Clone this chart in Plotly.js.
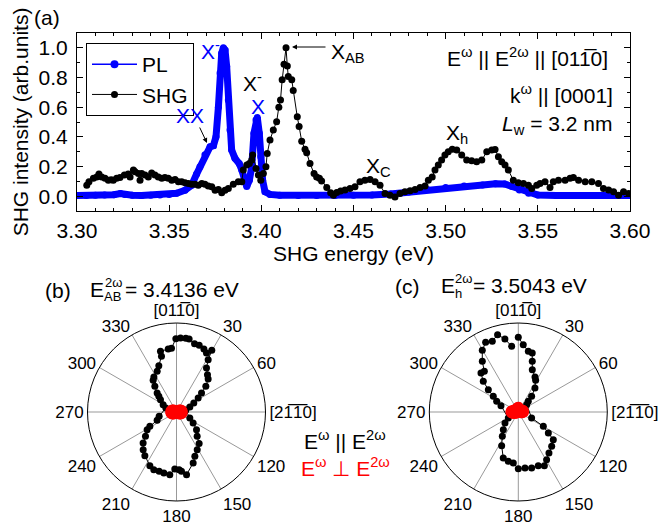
<!DOCTYPE html>
<html><head><meta charset="utf-8">
<script src="https://cdn.plot.ly/plotly-3.0.1.min.js"></script>
<style>html,body{margin:0;padding:0;background:#fff}#c{width:659px;height:525px}</style>
</head><body><div id="c"></div>
<script>
// ---------- (a) spectra ----------
const plEnergy = [3.300,3.305,3.310,3.315,3.320,3.3235,3.326,3.330,3.335,3.340,3.345,3.350,3.354,3.3586,3.3622,3.3649,3.3667,3.3694,3.3722,3.374,3.3754,3.3767,3.3776,3.3785,3.3794,3.3803,3.3812,3.3821,3.383,3.3839,3.3857,3.388,3.3894,3.3906,3.3921,3.3935,3.3948,3.396,3.3971,3.3978,3.3989,3.3997,3.4007,3.402,3.4047,3.410,3.420,3.430,3.440,3.450,3.460,3.470,3.480,3.490,3.500,3.510,3.520,3.527,3.532,3.536,3.540,3.545,3.550,3.560,3.570,3.580,3.590,3.600];
const plIntensity = [0.005,0.005,0.006,0.008,0.010,0.018,0.012,0.006,0.005,0.006,0.008,0.012,0.020,0.040,0.074,0.150,0.198,0.280,0.333,0.340,0.400,0.600,0.830,0.964,1.000,0.986,0.874,0.649,0.446,0.311,0.255,0.220,0.176,0.108,0.065,0.108,0.198,0.424,0.514,0.530,0.424,0.266,0.108,0.030,0.012,0.006,0.005,0.005,0.005,0.006,0.008,0.015,0.028,0.045,0.058,0.068,0.076,0.084,0.082,0.066,0.042,0.020,0.008,0.005,0.005,0.005,0.005,0.005];

const shgEnergy = [3.3053,3.3065,3.3089,3.3107,3.3119,3.3134,3.3152,3.3170,3.3185,3.3197,3.3215,3.3233,3.3257,3.3278,3.3288,3.3306,3.3315,3.3333,3.3342,3.3351,3.3369,3.3387,3.3405,3.3423,3.3441,3.3460,3.3477,3.3495,3.3514,3.3532,3.3550,3.3568,3.3586,3.3604,3.3622,3.3640,3.3658,3.3677,3.3694,3.3712,3.3731,3.3749,3.3767,3.3785,3.3803,3.3821,3.3848,3.3875,3.3894,3.3902,3.3921,3.3935,3.3948,3.3953,3.3971,3.3984,3.3997,3.4011,3.4025,3.4032,3.4047,3.4065,3.4083,3.4095,3.4104,3.4113,3.4123,3.4134,3.4141,3.4146,3.4165,3.4173,3.4195,3.4205,3.4219,3.4237,3.4246,3.4264,3.4286,3.4300,3.4315,3.4327,3.4355,3.4376,3.4391,3.4409,3.4430,3.4454,3.4481,3.4508,3.4535,3.4562,3.4590,3.4617,3.4644,3.4671,3.4698,3.4725,3.4752,3.4779,3.4807,3.4834,3.4861,3.4888,3.4906,3.4927,3.4942,3.4960,3.4978,3.4996,3.5014,3.5036,3.5060,3.5087,3.5114,3.5141,3.5168,3.5196,3.5223,3.5250,3.5268,3.5286,3.5304,3.5322,3.5340,3.5367,3.5394,3.5422,3.5449,3.5467,3.5494,3.5512,3.5539,3.5566,3.5584,3.5612,3.5648,3.5675,3.5693,3.5721,3.5757,3.5793,3.5829,3.5856,3.5884,3.5911,3.5938,3.5965,3.5993];
const shgIntensity = [0.074,0.097,0.120,0.130,0.149,0.130,0.120,0.108,0.110,0.108,0.120,0.126,0.142,0.149,0.130,0.176,0.164,0.153,0.108,0.153,0.142,0.130,0.157,0.142,0.130,0.120,0.126,0.120,0.108,0.113,0.097,0.097,0.090,0.086,0.081,0.081,0.074,0.086,0.081,0.068,0.063,0.040,0.045,0.023,0.040,0.052,0.081,0.097,0.097,0.176,0.210,0.220,0.243,0.277,0.187,0.142,0.108,0.153,0.198,0.288,0.378,0.446,0.502,0.600,0.649,0.784,0.890,1.000,0.878,0.806,0.784,0.712,0.535,0.470,0.370,0.316,0.293,0.220,0.153,0.130,0.120,0.103,0.058,0.023,0.007,0.025,0.035,0.041,0.052,0.063,0.097,0.108,0.113,0.097,0.074,0.018,0.007,-0.005,0.018,0.030,0.036,0.045,0.059,0.068,0.108,0.130,0.176,0.210,0.243,0.277,0.299,0.316,0.311,0.277,0.243,0.239,0.232,0.243,0.299,0.311,0.315,0.266,0.232,0.210,0.176,0.108,0.090,0.086,0.074,0.052,0.074,0.086,0.097,0.059,0.097,0.108,0.108,0.120,0.126,0.108,0.097,0.097,0.086,0.052,0.041,0.030,0.007,0.030,0.018];

const xTickVals = [3.30,3.35,3.40,3.45,3.50,3.55,3.60];
const yTickVals = [0.0,0.2,0.4,0.6,0.8,1.0];

// ---------- polar (b) and (c) ----------
const angleTickVals = [0,30,60,90,120,150,180,210,240,270,300,330];
const angleTickText = ['[011\u03050]','30','60','[21\u03051\u03050]','120','150','180','210','240','270','300','330'];

const bParTheta = [3.1,7.2,9.8,14.8,18.8,23.5,26.9,29.8,31.2,34.3,39.7,43.8,48.8,52.8,57.1,62.6,69.4,79.9,114.2,123.4,131.5,139.7,144.4,151.2,157.5,161.9,170.9,175.2,177.4,181.7,186.1,191.7,196.3,201.5,206.4,215.9,221.5,227.1,231.9,239,241.7,246.7,256,290.6,298.8,307.6,311.6,314.5,319.8,323.6,327.1,334.6,339.1,344.9,345.2,352.5,355.5,359.5];
const bParR = [0.833,0.834,0.833,0.794,0.791,0.772,0.744,0.798,0.687,0.598,0.545,0.514,0.438,0.353,0.290,0.219,0.160,0.106,0.164,0.224,0.300,0.359,0.437,0.483,0.539,0.603,0.713,0.669,0.649,0.641,0.708,0.700,0.694,0.696,0.673,0.606,0.565,0.512,0.443,0.385,0.340,0.237,0.201,0.128,0.171,0.227,0.265,0.305,0.377,0.442,0.468,0.506,0.557,0.648,0.705,0.714,0.718,0.824];

const perpTheta = [0,10,20,30,40,50,60,70,80,90,100,110,120,130,140,150,160,170,180,190,200,210,220,230,240,250,260,270,280,290,300,310,320,330,340,350];
const bPerpR = [0.030,0.030,0.035,0.040,0.050,0.060,0.070,0.075,0.080,0.080,0.080,0.075,0.070,0.060,0.050,0.040,0.035,0.030,0.030,0.030,0.035,0.040,0.050,0.060,0.070,0.075,0.080,0.080,0.080,0.075,0.070,0.060,0.050,0.040,0.035,0.030];

const cParTheta = [0,4.2,9.4,13.3,15.4,18.3,25.5,28.7,34.8,40.4,43.2,48.7,114.2,119.8,125,128.3,135.8,143.2,149.3,154.1,159.6,166.6,173.2,180,185.6,191.5,198.1,206.3,213.3,220.3,230.5,239,290,296.2,302.1,306.7,311.2,316.3,320.1,324.6,329.7,334.9,339.8,345,349.6,354.2];
const cParR = [0.839,0.759,0.691,0.681,0.591,0.501,0.436,0.406,0.328,0.231,0.164,0.125,0.164,0.324,0.412,0.501,0.538,0.575,0.623,0.670,0.643,0.647,0.634,0.637,0.576,0.566,0.544,0.422,0.327,0.260,0.194,0.131,0.207,0.271,0.332,0.420,0.523,0.607,0.595,0.698,0.802,0.865,0.846,0.899,0.834,0.742];
const cPerpR = [0.070,0.065,0.055,0.050,0.050,0.055,0.065,0.070,0.075,0.075,0.070,0.060,0.050,0.040,0.030,0.025,0.020,0.020,0.020,0.020,0.025,0.030,0.040,0.050,0.065,0.080,0.090,0.100,0.095,0.085,0.070,0.060,0.055,0.055,0.060,0.065];

// ---------- layout helpers ----------
const W = 659, H = 525;
const FX = p => p / W, FY = p => 1 - p / H;
const FONT = 'Arial, "Liberation Sans", sans-serif';
const BLUE = '#0000ff', RED = '#ff0000';
const FS = 21, FSP = 17, FSS = 13;

const traces = [
  {type:'scatter', x:plEnergy, y:plIntensity, mode:'lines+markers', line:{color:BLUE, width:7}, marker:{color:BLUE, size:7}, showlegend:false, legendgroup:'pl'},
  {type:'scatter', x:[null], y:[null], mode:'lines+markers', name:'PL', line:{color:BLUE, width:1.5}, marker:{color:BLUE, size:8}, legendgroup:'pl'},
  {type:'scatter', x:shgEnergy, y:shgIntensity, mode:'lines+markers', name:'SHG', line:{color:'#000', width:1}, marker:{color:'#000', size:7}},
  {type:'scatterpolar', subplot:'polar', theta:bParTheta, r:bParR, mode:'lines+markers', line:{color:'#000', width:1}, marker:{color:'#000', size:7}, showlegend:false},
  {type:'scatterpolar', subplot:'polar', theta:perpTheta, r:bPerpR, mode:'markers', marker:{color:RED, size:8}, showlegend:false},
  {type:'scatterpolar', subplot:'polar2', theta:cParTheta, r:cParR, mode:'lines+markers', line:{color:'#000', width:1}, marker:{color:'#000', size:7}, showlegend:false},
  {type:'scatterpolar', subplot:'polar2', theta:perpTheta, r:cPerpR, mode:'markers', marker:{color:RED, size:8}, showlegend:false}
];

function polarCfg(x0, x1) {
  return {
    domain:{x:[FX(x0), FX(x1)], y:[FY(501), FY(323)]},
    bgcolor:'rgba(0,0,0,0)',
    angularaxis:{rotation:90, direction:'clockwise', tickmode:'array', tickvals:angleTickVals, ticktext:angleTickText,
      showline:true, linecolor:'#000', linewidth:1, showgrid:true, gridcolor:'#999999', gridwidth:1, ticks:'',
      tickfont:{family:FONT, size:FSP, color:'#000'}},
    radialaxis:{range:[0,1], visible:false, showgrid:false}
  };
}

function ann(text, x, y, opt) {
  return Object.assign({text:text, x:FX(x), y:FY(y), xref:'paper', yref:'paper', showarrow:false,
    xanchor:'center', yanchor:'middle', font:{family:FONT, size:FS, color:'#000'}}, opt || {});
}
const small = {family:FONT, size:FSS, color:'#000'};

const annotations = [
  ann('(a)', 47, 18),
  ann('X<sup>-</sup>', 210, 50, {font:{family:FONT, size:FS, color:BLUE}}),
  ann('XX', 190, 115, {font:{family:FONT, size:FS, color:BLUE}}),
  ann('X<sup>-</sup>', 252, 82),
  ann('X', 258, 107, {font:{family:FONT, size:FS, color:BLUE}}),
  ann('X<sub>AB</sub>', 329, 53, {xanchor:'left'}),
  ann('X<sub>C</sub>', 378, 167),
  ann('X<sub>h</sub>', 457, 134),
  ann('E<sup>\u03c9</sup> || E<sup>2\u03c9</sup> || [011\u03050]', 610, 57, {xanchor:'right'}),
  ann('k<sup>\u03c9</sup> || [0001]', 615, 94, {xanchor:'right'}),
  ann('<i>L</i><sub>w</sub> = 3.2 nm', 614, 125, {xanchor:'right'}),
  // arrows
  {text:'', xref:'paper', yref:'paper', x:FX(207), y:FY(143), ax:-8, ay:-17, showarrow:true, arrowhead:2, arrowsize:1, arrowwidth:1, arrowcolor:'#000'},
  {text:'', xref:'paper', yref:'paper', x:FX(292), y:FY(47), ax:35, ay:0, showarrow:true, arrowhead:2, arrowsize:1, arrowwidth:1, arrowcolor:'#000'},
  // (b) heading
  ann('(b)', 58, 290),
  ann('E', 89, 289, {xanchor:'left', borderpad:0}),
  ann('2\u03c9', 104, 282, {xanchor:'left', font:small, borderpad:0}),
  ann('AB', 103, 296, {xanchor:'left', font:small, borderpad:0}),
  ann('= 3.4136 eV', 124, 289, {xanchor:'left', borderpad:0}),
  // (c) heading
  ann('(c)', 407, 286),
  ann('E', 440, 285, {xanchor:'left', borderpad:0}),
  ann('2\u03c9', 454, 278, {xanchor:'left', font:small, borderpad:0}),
  ann('h', 454, 293, {xanchor:'left', font:small, borderpad:0}),
  ann('= 3.5043 eV', 472, 285, {xanchor:'left', borderpad:0}),
  // polar legend
  ann('E<sup>\u03c9</sup> || E<sup>2\u03c9</sup>', 345, 440),
  ann('E<sup>\u03c9</sup> \u22a5 E<sup>2\u03c9</sup>', 345, 467, {font:{family:FONT, size:FS, color:RED}})
];

const layout = {
  width:W, height:H, margin:{l:0, r:0, t:0, b:0},
  paper_bgcolor:'#fff', plot_bgcolor:'#fff',
  font:{family:FONT, size:FS, color:'#000'},
  xaxis:{domain:[FX(77), FX(630)], range:[3.30, 3.60], tickmode:'array', tickvals:xTickVals, tickformat:'.2f',
    ticks:'inside', ticklen:6, tickwidth:1, tickcolor:'#000', mirror:'allticks', showline:true, linecolor:'#000', linewidth:1,
    showgrid:false, zeroline:false, minor:{dtick:0.01, ticks:'inside', ticklen:3, tickcolor:'#000', showgrid:false},
    ticklabelstandoff:1, tickfont:{family:FONT, size:FS},
    title:{text:'SHG energy (eV)', font:{family:FONT, size:FS}, standoff:2}, anchor:'y'},
  yaxis:{domain:[FY(211), FY(33)], range:[-0.1, 1.1], tickmode:'array', tickvals:yTickVals, tickformat:'.1f',
    ticks:'inside', ticklen:6, tickwidth:1, tickcolor:'#000', mirror:'allticks', showline:true, linecolor:'#000', linewidth:1,
    showgrid:false, zeroline:false, minor:{dtick:0.1, tick0:0, ticks:'inside', ticklen:3, tickcolor:'#000', showgrid:false},
    ticklabelstandoff:4, tickfont:{family:FONT, size:FS},
    title:{text:'SHG intensity (arb.units)', font:{family:FONT, size:FS}, standoff:4}, anchor:'x'},
  polar: polarCfg(87.5, 265.5),
  polar2: polarCfg(429.3, 607.3),
  showlegend:true,
  legend:{x:FX(86), y:FY(43), xanchor:'left', yanchor:'top', bgcolor:'#fff', bordercolor:'#000', borderwidth:1,
    font:{family:FONT, size:FS}, itemwidth:45, tracegroupgap:0},
  annotations: annotations
};

Plotly.newPlot('c', traces, layout, {staticPlot:true, displayModeBar:false});
</script></body></html>
